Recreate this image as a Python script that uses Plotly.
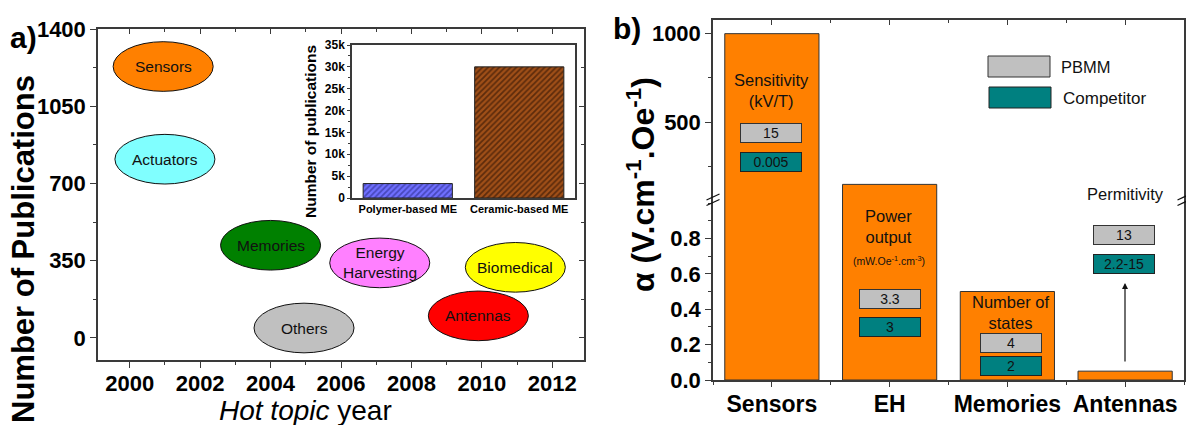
import plotly.graph_objects as go

W, H = 1186, 425
def px(x): return x / W
def py(y): return 1 - y / H

FONT = "Arial, 'Liberation Sans', sans-serif"
AX = "#3a3a3a"

# ---------------- Panel a data ----------------
topics = ["Sensors", "Actuators", "Memories", "Energy<br>Harvesting", "Biomedical", "Antennas", "Others"]
topic_years = [2000.95, 2001.0, 2004.0, 2007.1, 2010.95, 2009.9, 2004.95]
topic_pubs = [1230, 810, 420, 340, 320, 100, 45]
topic_colors = ["#FF8000", "#80FFFF", "#008000", "#FF80FF", "#FFFF00", "#FF0000", "#C0C0C0"]

inset_cats = ["Polymer-based ME", "Ceramic-based ME"]
inset_vals = [3300, 30000]
inset_colors = ["#7070FF", "#A04F18"]
inset_hatch = ["#20207A", "#1A0800"]
inset_ticks = [0, 5000, 10000, 15000, 20000, 25000, 30000, 35000]
inset_ticktext = ["0", "5k", "10k", "15k", "20k", "25k", "30k", "35k"]

# ---------------- Panel b data ----------------
apps = ["Sensors", "EH", "Memories", "Antennas"]
alpha_vals = [1000, 150, 0.5, 0.05]
pbmm_vals = ["15", "3.3", "4", "13"]
competitor_vals = ["0.005", "3", "2", "2.2-15"]
app_props = ["Sensitivity<br>(kV/T)", "Power<br>output", "Number of<br>states", "Permitivity"]
lower_ticks = [0.0, 0.2, 0.4, 0.6, 0.8]
upper_ticks = [500, 1000]

fig = go.Figure()

# invisible traces to activate overlay axes (top/right inside ticks of panel a)
fig.add_trace(go.Scatter(x=[None], y=[None], xaxis="x2", yaxis="y", showlegend=False, hoverinfo="skip"))
fig.add_trace(go.Scatter(x=[None], y=[None], xaxis="x", yaxis="y2", showlegend=False, hoverinfo="skip"))
fig.add_trace(go.Scatter(x=[None], y=[None], xaxis="x", yaxis="y", showlegend=False, hoverinfo="skip"))

# inset bars (hatched)
for i, (cat, val) in enumerate(zip(inset_cats, inset_vals)):
    fig.add_trace(go.Bar(
        x=[i], y=[val], xaxis="x3", yaxis="y3", width=0.8, showlegend=False, name=cat,
        marker=dict(color=inset_colors[i], line=dict(color="#222", width=1),
                    pattern=dict(shape="/", fillmode="overlay", fgcolor=inset_hatch[i],
                                 size=4, solidity=0.45))))

# panel b bars: lower and upper segment of the broken axis
xb = list(range(len(apps)))
for xa, ya in (("x4", "y4"), ("x5", "y5")):
    fig.add_trace(go.Bar(x=xb, y=alpha_vals, xaxis=xa, yaxis=ya, width=0.8, showlegend=False,
                         marker=dict(color="#FF8000", line=dict(color="#333", width=1))))

shapes = []
annotations = []

def ann(x, y, text, size, bold=False, angle=0, xanchor="center", color="#111", **kw):
    d = dict(x=x, y=y, xref=kw.pop("xref", "paper"), yref=kw.pop("yref", "paper"),
             text=f"<b>{text}</b>" if bold else text, showarrow=False, textangle=angle,
             xanchor=xanchor, yanchor="middle",
             font=dict(family=FONT, size=size, color=color))
    d.update(kw)
    annotations.append(d)

# ellipses
EW, EH = 2.84, 225
for name, yr, n, col in zip(topics, topic_years, topic_pubs, topic_colors):
    shapes.append(dict(type="circle", xref="x", yref="y", x0=yr - EW / 2, x1=yr + EW / 2,
                       y0=n - EH / 2, y1=n + EH / 2, fillcolor=col,
                       line=dict(color="#111", width=1), layer="above"))
    ann(yr, n, name, 15.5, xref="x", yref="y")

# panel labels and titles
ann(px(23), py(38), "a)", 30, bold=True, color="black")
ann(px(627), py(28), "b)", 30, bold=True, color="black")
ann(px(23), py(249), "Number of Publications", 31, bold=True, angle=-90, color="black")
ann(px(305), py(410), "<i>Hot topic</i> year", 28, color="black")
ann(px(311), py(132), "Number of publications", 15.5, bold=True, angle=-90, color="black")
ann(px(641), py(185), "α (V.cm<sup>-1</sup>.Oe<sup>-1</sup>)", 32, bold=True, angle=-90, color="black")

# panel b property labels
prop_pos = [(771, 90), (889, 227), (1010, 312), (1125, 194)]
for t, (x, y) in zip(app_props, prop_pos):
    ann(px(x), py(y), t, 16.5)
ann(px(889), py(260), "(mW.Oe<sup>-1</sup>.cm<sup>-3</sup>)", 10.5)

# value boxes
box_pos = [(771, 133, 161.5), (889.5, 298.5, 326.5), (1011, 343, 366), (1124, 235, 263.5)]
for pv, cv, (x, yg, yt) in zip(pbmm_vals, competitor_vals, box_pos):
    ann(px(x), py(yg), pv, 14, width=60, height=18, borderpad=0, borderwidth=1,
        bordercolor="#333", bgcolor="#C0C0C0")
    ann(px(x), py(yt), cv, 14, width=60, height=18, borderpad=0, borderwidth=1,
        bordercolor="#222", bgcolor="#008080")

# arrow in antennas column
annotations.append(dict(x=px(1125), y=py(283), xref="paper", yref="paper", text="", showarrow=True,
                        ax=0, ay=80, arrowhead=2, arrowsize=1, arrowwidth=1.2, arrowcolor="#111"))

# legend of panel b
shapes += [
    dict(type="rect", xref="paper", yref="paper", x0=px(988), x1=px(1050), y0=py(77), y1=py(56),
         fillcolor="#C0C0C0", line=dict(color="#333", width=1)),
    dict(type="rect", xref="paper", yref="paper", x0=px(989), x1=px(1051), y0=py(108), y1=py(87),
         fillcolor="#008080", line=dict(color="#222", width=1)),
]
ann(px(1059), py(67), "PBMM", 16.5, xanchor="left")
ann(px(1061), py(98), "Competitor", 17, xanchor="left")

# axis break marks
for bx in (713, 1184):
    for dy in (0, 5.5):
        shapes.append(dict(type="line", xref="paper", yref="paper",
                           x0=px(bx - 6.5), y0=py(200 + dy), x1=px(bx + 6.5), y1=py(194 + dy),
                           line=dict(color="#111", width=1.3)))

tickfont_a = dict(family=FONT, size=22, color="black", weight="bold")
line_kw = dict(showline=True, linecolor=AX, linewidth=1.5, showgrid=False, zeroline=False,
               automargin=False)

XA = [px(98), px(584)]
YA = [py(360), py(29)]
XI = [px(352), px(575)]
YI = [py(198), py(45)]
XB = [px(713), px(1184)]
YB_LOW = [py(380), py(200)]
YB_UP = [py(200), py(20)]

fig.update_layout(
    template="none",
    width=W, height=H, margin=dict(l=0, r=0, t=0, b=0, autoexpand=False),
    paper_bgcolor="white", plot_bgcolor="white", showlegend=False,
    font=dict(family=FONT, color="black"),
    shapes=shapes, annotations=annotations,
    xaxis=dict(domain=XA, anchor="y", range=[1999.1, 2012.9], tick0=2000, dtick=2,
               ticks="outside", ticklen=6, tickwidth=1.3, tickcolor=AX, ticklabelstandoff=-3,
               minor=dict(ticks="outside", ticklen=3, dtick=1, tickcolor=AX),
               tickfont=tickfont_a, mirror=True, **line_kw),
    yaxis=dict(domain=YA, anchor="x", range=[-100, 1400], tick0=0, dtick=350,
               ticks="outside", ticklen=6, tickwidth=1.3, tickcolor=AX,
               minor=dict(ticks="outside", ticklen=3, dtick=175, tickcolor=AX),
               tickfont=tickfont_a, mirror=True, **line_kw),
    xaxis2=dict(overlaying="x", side="top", anchor="y", range=[1999.1, 2012.9], tick0=2000, dtick=2,
                ticks="inside", ticklen=5, tickcolor=AX, showticklabels=False,
                minor=dict(ticks="inside", ticklen=3, dtick=1, tickcolor=AX),
                showgrid=False, zeroline=False, automargin=False),
    yaxis2=dict(overlaying="y", side="right", anchor="x", range=[-100, 1400], tick0=0, dtick=350,
                ticks="inside", ticklen=5, tickcolor=AX, showticklabels=False,
                minor=dict(ticks="inside", ticklen=3, dtick=175, tickcolor=AX),
                showgrid=False, zeroline=False, automargin=False),
    xaxis3=dict(domain=XI, anchor="y3", range=[-0.5, 1.5], tickvals=[0, 1], ticktext=inset_cats,
                ticks="", tickfont=dict(family=FONT, size=11, color="black", weight="bold"),
                mirror=True, **line_kw),
    yaxis3=dict(domain=YI, anchor="x3", range=[0, 35000], tickvals=inset_ticks, ticktext=inset_ticktext,
                ticks="outside", ticklen=3, tickcolor=AX,
                minor=dict(ticks="outside", ticklen=2, dtick=2500, tickcolor=AX),
                tickfont=dict(family=FONT, size=12, color="black", weight="bold"),
                mirror=True, **line_kw),
    xaxis4=dict(domain=XB, anchor="y4", range=[-0.5, 3.5], tickvals=xb, ticktext=apps,
                ticks="outside", ticklen=5, tickwidth=1.3, tickcolor=AX, ticklabelstandoff=-2,
                minor=dict(ticks="outside", ticklen=3, tick0=0.5, dtick=1, tickcolor=AX),
                tickfont=dict(family=FONT, size=23, color="black", weight="bold"), **line_kw),
    yaxis4=dict(domain=YB_LOW, anchor="x4", range=[0, 1.017], tickvals=lower_ticks, tickformat=".1f",
                ticks="outside", ticklen=6, tickwidth=1.3, tickcolor=AX,
                minor=dict(ticks="outside", ticklen=3, tick0=0, dtick=0.1, tickcolor=AX),
                tickfont=tickfont_a, mirror=True, **line_kw),
    xaxis5=dict(domain=XB, anchor="y5", side="top", range=[-0.5, 3.5], tickvals=xb,
                ticks="inside", ticklen=5, tickcolor=AX, showticklabels=False,
                minor=dict(ticks="inside", ticklen=3, tick0=0.5, dtick=1, tickcolor=AX), **line_kw),
    yaxis5=dict(domain=YB_UP, anchor="x5", range=[62, 1077], tickvals=upper_ticks,
                ticks="outside", ticklen=6, tickwidth=1.3, tickcolor=AX,
                minor=dict(ticks="outside", ticklen=3, tick0=0, dtick=250, tickcolor=AX),
                tickfont=tickfont_a, mirror=True, **line_kw),
    bargap=0.2,
)

fig.write_html(
    "out.html",
    config={"displayModeBar": False},
    post_script="document.body.style.margin='0px';document.body.style.padding='0px';"
                "document.body.style.overflow='hidden';",
)
